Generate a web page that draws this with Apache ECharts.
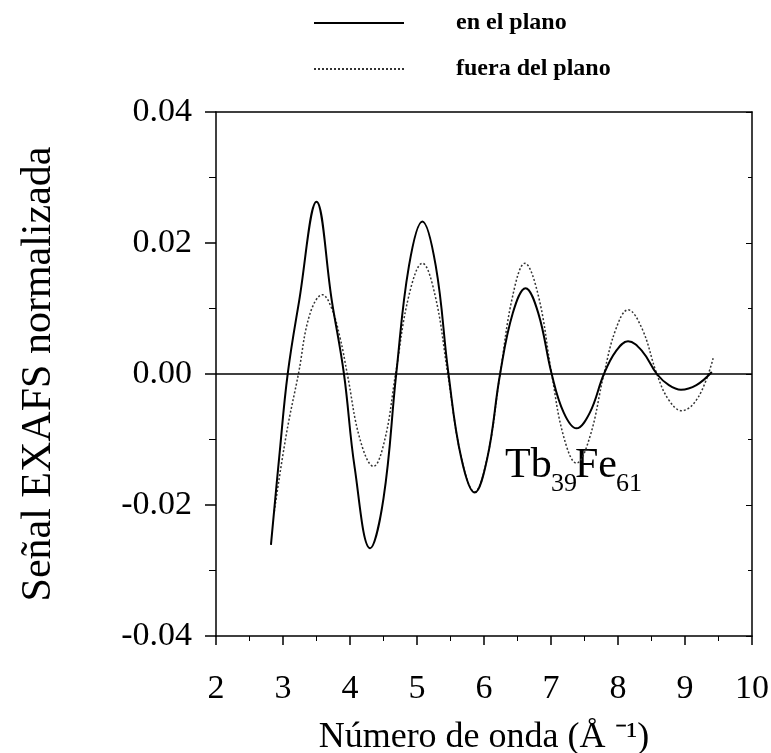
<!DOCTYPE html>
<html>
<head>
<meta charset="utf-8">
<script src="https://cdn.jsdelivr.net/npm/echarts@6/dist/echarts.min.js"></script>
<style>
html,body{margin:0;padding:0;background:#fff;}
#chart{width:771px;height:753px;}
</style>
</head>
<body>
<div id="chart"></div>
<script>
// k values (Å^-1) and normalized EXAFS signal
var enPlanoK = [2.82, 2.95, 3.07, 3.24, 3.50, 3.73, 3.91, 4.07, 4.30, 4.50, 4.69, 4.88, 5.08, 5.28, 5.47, 5.66, 5.86, 6.05, 6.24, 6.43, 6.62, 6.81, 7.01, 7.19, 7.38, 7.58, 7.79, 7.97, 8.15, 8.36, 8.58, 8.76, 8.94, 9.17, 9.40];
var enPlanoY = [-0.0261, -0.0120, 0.0000, 0.0111, 0.0263, 0.0111, 0.0000, -0.0143, -0.0266, -0.0190, 0.0000, 0.0165, 0.0233, 0.0165, 0.0000, -0.0128, -0.0181, -0.0128, 0.0000, 0.0093, 0.0131, 0.0093, 0.0000, -0.0059, -0.0083, -0.0059, 0.0000, 0.0035, 0.0050, 0.0035, 0.0000, -0.0017, -0.0024, -0.0017, 0.0003];
var fueraK = [2.87, 3.05, 3.23, 3.40, 3.59, 3.72, 3.85, 3.96, 4.15, 4.35, 4.52, 4.68, 4.88, 5.08, 5.27, 5.46, 5.66, 5.86, 6.05, 6.24, 6.43, 6.61, 6.81, 7.01, 7.19, 7.38, 7.58, 7.79, 7.97, 8.15, 8.36, 8.58, 8.76, 8.95, 9.20, 9.42];
var fueraY = [-0.0210, -0.0092, 0.0000, 0.0091, 0.0121, 0.0102, 0.0056, 0.0000, -0.0100, -0.0141, -0.0100, 0.0000, 0.0120, 0.0169, 0.0120, 0.0000, -0.0127, -0.0180, -0.0127, 0.0000, 0.0120, 0.0169, 0.0120, 0.0000, -0.0096, -0.0136, -0.0096, 0.0000, 0.0069, 0.0098, 0.0069, 0.0000, -0.0040, -0.0056, -0.0035, 0.0024];
var seriesNames = ['en el plano', 'fuera del plano'];
var xTitle = 'Número de onda (Å ⁻¹)';
var yTitle = 'Señal EXAFS normalizada';

function pairs(xs, ys){ return xs.map(function(x,i){ return [x, ys[i]]; }); }

var FONT = "'Liberation Serif','Times New Roman',serif";
var chart = echarts.init(document.getElementById('chart'), null, {renderer:'canvas'});
chart.setOption({
  backgroundColor: '#fff',
  animation: false,
  legend: {
    data: seriesNames,
    orient: 'vertical',
    left: 313, top: 11, padding: 0,
    itemWidth: 90, itemHeight: 14, itemGap: 22,
    itemStyle: {opacity: 0},
    textStyle: {fontFamily: FONT, fontSize: 24, fontWeight: 'bold', color: '#000', padding: [0,0,0,47]}
  },
  grid: {left: 216, right: 19, top: 112, bottom: 117, containLabel: false, outerBoundsMode: 'none'},
  xAxis: [{
    type: 'value', min: 2, max: 10, interval: 1,
    name: xTitle, nameLocation: 'middle', nameGap: 84,
    nameTextStyle: {fontFamily: FONT, fontSize: 36, color: '#000'},
    axisLine: {show: true, onZero: false, lineStyle: {color: '#000', width: 1.5}},
    axisTick: {show: true, inside: false, length: 9, lineStyle: {color: '#000', width: 1.5}},
    minorTick: {show: true, splitNumber: 2, length: 5, lineStyle: {color: '#000', width: 1}},
    axisLabel: {fontFamily: FONT, fontSize: 34, color: '#000', margin: 36},
    splitLine: {show: false}
  }, {
    type: 'value', min: 2, max: 10, position: 'top',
    axisLine: {show: true, onZero: false, lineStyle: {color: '#000', width: 1.5}},
    axisTick: {show: false}, axisLabel: {show: false}, splitLine: {show: false}
  }],
  yAxis: [{
    type: 'value', min: -0.04, max: 0.04, interval: 0.02,
    name: yTitle, nameLocation: 'middle', nameGap: 156, nameRotate: 90,
    nameTextStyle: {fontFamily: FONT, fontSize: 42, color: '#000'},
    axisLine: {show: true, onZero: false, lineStyle: {color: '#000', width: 1.5}},
    axisTick: {show: true, inside: false, length: 11, lineStyle: {color: '#000', width: 1.5}},
    minorTick: {show: true, splitNumber: 2, length: 7, lineStyle: {color: '#000', width: 1}},
    axisLabel: {fontFamily: FONT, fontSize: 34, color: '#000', margin: 24,
      formatter: function(v){ return Math.abs(v) < 1e-9 ? '0.00' : v.toFixed(2); }},
    splitLine: {show: false}
  }, {
    type: 'value', min: -0.04, max: 0.04, interval: 0.02, position: 'right',
    axisLine: {show: true, onZero: false, lineStyle: {color: '#000', width: 1.5}},
    axisTick: {show: true, inside: true, length: 6, lineStyle: {color: '#000', width: 1}},
    minorTick: {show: true, splitNumber: 2, length: 4, lineStyle: {color: '#000', width: 1}},
    axisLabel: {show: false}, splitLine: {show: false}
  }],
  series: [{
    name: seriesNames[0], type: 'line', data: pairs(enPlanoK, enPlanoY),
    smooth: 0.4, symbol: 'none', showSymbol: false,
    lineStyle: {color: '#000', width: 2, type: 'solid'}, itemStyle: {color: '#000'},
    markLine: {silent: true, symbol: 'none', label: {show: false},
      lineStyle: {color: '#000', width: 1.5, type: 'solid'}, data: [{yAxis: 0}]},
    z: 3
  }, {
    name: seriesNames[1], type: 'line', data: pairs(fueraK, fueraY),
    smooth: 0.4, symbol: 'none', showSymbol: false,
    lineStyle: {color: '#333', width: 1.5, type: [2, 2]}, itemStyle: {color: '#333'},
    z: 2
  }],
  graphic: [{
    type: 'group', left: 505, top: 445,
    children: [
      {type: 'text', x: 0, y: 0, style: {text: 'Tb', font: '42px ' + FONT, fill: '#000'}},
      {type: 'text', x: 46, y: 26, style: {text: '39', font: '26px ' + FONT, fill: '#000'}},
      {type: 'text', x: 70, y: 0, style: {text: 'Fe', font: '42px ' + FONT, fill: '#000'}},
      {type: 'text', x: 111, y: 26, style: {text: '61', font: '26px ' + FONT, fill: '#000'}}
    ]
  }]
});
</script>
</body>
</html>
